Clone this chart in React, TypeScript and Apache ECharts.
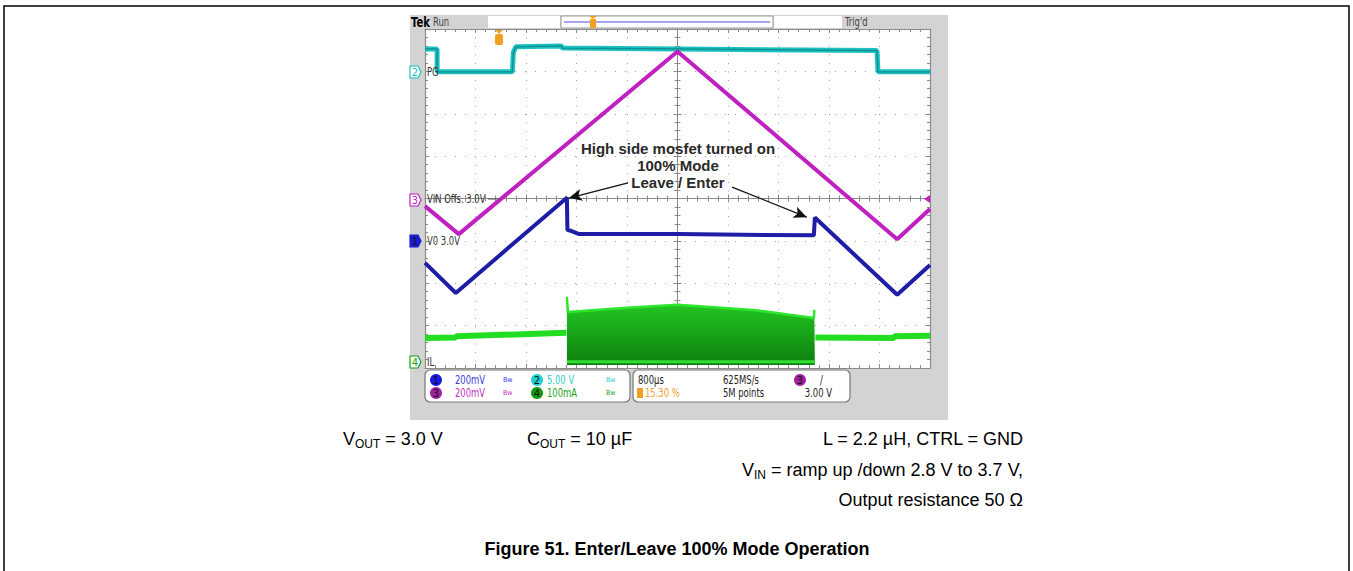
import React, { useEffect, useRef } from "react";
import * as echarts from "echarts";

// ---- data (x in horizontal divisions from screen centre, y in vertical divisions from centre) ----
const pgX = [-5, -4.76, -4.76, -3.27, -3.25, -3.2, -2.3, -2.28, 0, 3.95, 3.97, 5];
const pgY = [3.53, 3.53, 2.99, 2.99, 3.45, 3.58, 3.6, 3.55, 3.53, 3.49, 2.99, 2.99];
const vinX = [-5, -4.33, 0, 4.35, 5];
const vinY = [-0.18, -0.84, 3.47, -0.96, -0.25];
const voX = [-5, -4.39, -2.19, -2.18, -2.12, -1.95, 0, 2.7, 2.72, 4.35, 5];
const voY = [-1.52, -2.23, 0.02, -0.74, -0.76, -0.84, -0.84, -0.87, -0.45, -2.27, -1.57];
const ilX = [-5, -4.39, -4.38, -2.2, null, 2.73, 4.28, 4.3, 5];
const ilY = [-3.29, -3.28, -3.25, -3.17, null, -3.28, -3.29, -3.25, -3.24];
const burstX = [-2.19, -2.17, -1, 0, 1.5, 2.7, 2.71, 2.72];
const burstTop = [-2.32, -2.68, -2.58, -2.51, -2.63, -2.82, -2.63, -2.63];
const burstBaseX = [-2.19, 2.72];
const burstBaseY = [-3.85, -3.85];
const burstFloor = -3.93;
const arrowStart = [[-0.98, 0.37], [1.08, 0.27]];
const arrowEnd = [[-2.15, 0.01], [2.56, -0.44]];

const xDivMin = -5, xDivMax = 5, yDivMin = -4, yDivMax = 4;

const zip = (xs: (number | null)[], ys: (number | null)[]) =>
  xs.map((x, i) => (x === null || ys[i] === null ? [null, null] : [x, ys[i]]));

const NARROW = "'Liberation Sans Narrow', 'Arial Narrow', 'DejaVu Sans Condensed', sans-serif";
const SANS = "'Liberation Sans', Arial, Helvetica, sans-serif";
const GRID = "#8a8a8a";

function txt(x: number, y: number, text: string, o: any = {}) {
  return {
    type: "text",
    x,
    y,
    z: 100,
    silent: true,
    scaleX: o.scaleX ?? 1,
    style: {
      text,
      fill: o.fill || "#222",
      fontSize: o.fontSize || 11,
      fontFamily: o.fontFamily || NARROW,
      fontWeight: o.fontWeight || "normal",
      textAlign: o.align || "left",
      align: o.align || "left",
      textVerticalAlign: "middle",
      verticalAlign: "middle",
      rich: o.rich,
    },
  };
}

// narrow scope UI text
const ui = (x: number, y: number, text: string, fill: string, align = "left") =>
  txt(x, y, text, { fill, fontSize: 12, scaleX: 0.78, align });

function marker(y: number, num: string, color: string, filled: boolean) {
  const x = 410;
  return [
    {
      type: "polygon",
      z: 100,
      shape: { points: [[x, y - 6], [x + 8, y - 6], [x + 11, y], [x + 8, y + 6], [x, y + 6]] },
      style: { fill: filled ? color : "#fff", stroke: color, lineWidth: 1.2 },
    },
    txt(x + 5, y, num, { fill: filled ? "#111" : color, fontSize: 11, align: "center" }),
  ];
}

function chip(x: number, y: number, num: string, color: string) {
  return [
    { type: "circle", z: 100, shape: { cx: x, cy: y, r: 6 }, style: { fill: color } },
    txt(x, y, num, { fill: "#111", fontSize: 11, align: "center" }),
  ];
}

function bw(x: number, y: number, color: string) {
  return txt(x, y, "Bw", { fill: color, fontSize: 7 });
}

const sub = (color = "#000") => ({
  fontSize: 12, fontFamily: SANS, fill: color, color, verticalAlign: "bottom", lineHeight: 13,
});
const main = (color = "#000") => ({
  fontSize: 18, fontFamily: SANS, fill: color, color, verticalAlign: "middle", lineHeight: 22,
});

function axisCommon(extra: any) {
  return {
    type: "value",
    axisLabel: { show: false },
    splitLine: { show: false },
    axisTick: { show: true, inside: true, length: 4, lineStyle: { color: GRID, width: 1 } },
    minorTick: { show: true, splitNumber: 5, length: 3, lineStyle: { color: GRID, width: 1 } },
    axisLine: { show: true, onZero: false, lineStyle: { color: GRID, width: 1.2 } },
    ...extra,
  };
}

export default function App() {
  const ref = useRef<HTMLDivElement>(null);
  useEffect(() => {
    const chart = echarts.init(ref.current!, null, { renderer: "svg" });
    const xa = { min: xDivMin, max: xDivMax, interval: 1 };
    const ya = { min: yDivMin, max: yDivMax, interval: 1 };
    const option: any = {
      animation: false,
      backgroundColor: "#fff",
      grid: { left: 425, top: 29, width: 505, height: 339, show: true, backgroundColor: "#fff", borderWidth: 0 },
      xAxis: [
        axisCommon({ ...xa, position: "bottom", splitLine: { show: true, lineStyle: { color: "#a0a0a0", width: 1, type: [1, 7.5] } } }),
        axisCommon({ ...xa, position: "top" }),
        axisCommon({ ...xa, position: "bottom", axisLine: { show: true, onZero: true, onZeroAxisIndex: 0, lineStyle: { color: GRID, width: 1 } } }),
        axisCommon({ ...xa, position: "top", axisLine: { show: true, onZero: true, onZeroAxisIndex: 0, lineStyle: { color: GRID, width: 1 } } }),
      ],
      yAxis: [
        axisCommon({ ...ya, position: "left", splitLine: { show: true, lineStyle: { color: "#a0a0a0", width: 1, type: [1, 9] } } }),
        axisCommon({ ...ya, position: "right" }),
        axisCommon({ ...ya, position: "left", axisLine: { show: true, onZero: true, onZeroAxisIndex: 0, lineStyle: { color: GRID, width: 1 } } }),
        axisCommon({ ...ya, position: "right", axisLine: { show: true, onZero: true, onZeroAxisIndex: 0, lineStyle: { color: GRID, width: 1 } } }),
      ],
      series: [
        {
          name: "IL burst", type: "line", data: zip(burstX, burstTop), symbol: "none", z: 3,
          lineStyle: { color: "#2ee62e", width: 2.5 },
          areaStyle: {
            origin: burstFloor, opacity: 1,
            color: new echarts.graphic.LinearGradient(0, 0, 0, 1, [
              { offset: 0, color: "#26cc26" },
              { offset: 0.6, color: "#15a015" },
              { offset: 1, color: "#0f7d0f" },
            ]),
          },
        },
        { name: "IL base", type: "line", data: zip(burstBaseX, burstBaseY), symbol: "none", z: 3, lineStyle: { color: "#33dd33", width: 3 } },
        { name: "IL", type: "line", data: zip(ilX, ilY), symbol: "none", z: 3, connectNulls: false, lineStyle: { color: "#22dd22", width: 6 } },
        { name: "PG", type: "line", data: zip(pgX, pgY), symbol: "none", z: 4, lineStyle: { color: "#1cc0c0", width: 5 } },
        { name: "PG core", type: "line", data: zip(pgX, pgY), symbol: "none", z: 4, lineStyle: { color: "#0e8e8e", width: 1.3 } },
        {
          name: "VIN", type: "line", data: zip(vinX, vinY), symbol: "none", z: 5, lineStyle: { color: "#c020c0", width: 4 },
          markLine: {
            silent: true, symbol: ["none", "arrow"], symbolSize: [9, 13], label: { show: false },
            lineStyle: { color: "#111", width: 1.3, type: "solid" },
            emphasis: { disabled: true },
            data: arrowStart.map((s, i) => [{ coord: s }, { coord: arrowEnd[i] }]),
          },
        },
        { name: "VO", type: "line", data: zip(voX, voY), symbol: "none", z: 6, lineStyle: { color: "#1d1da6", width: 4 } },
      ],
      graphic: [
        { type: "rect", z: -20, silent: true, shape: { x: 4, y: 6, width: 1345, height: 620 }, style: { fill: "#fff", stroke: "#000", lineWidth: 1.5 } },
        { type: "rect", z: -10, silent: true, shape: { x: 410, y: 15, width: 538, height: 405 }, style: { fill: "#d3d3d3" } },
        // header
        txt(411, 22, "Tek", { fontSize: 14, fontWeight: "bold", fill: "#000", scaleX: 0.8 }),
        ui(433, 22, "Run", "#444"),
        { type: "rect", z: 100, shape: { x: 488, y: 16, width: 72, height: 12 }, style: { fill: "#fff" } },
        { type: "rect", z: 100, shape: { x: 561, y: 16, width: 212, height: 12 }, style: { fill: "#fff", stroke: "#999", lineWidth: 1 } },
        { type: "line", z: 101, shape: { x1: 564, y1: 22, x2: 770, y2: 22 }, style: { stroke: "#4c4cd6", lineWidth: 1.2 } },
        { type: "rect", z: 102, shape: { x: 590, y: 19, width: 6, height: 9 }, style: { fill: "#f0a020" } },
        { type: "polygon", z: 102, shape: { points: [[589, 16], [597, 16], [593, 19]] }, style: { fill: "#f0a020" } },
        { type: "rect", z: 100, shape: { x: 774, y: 16, width: 68, height: 12 }, style: { fill: "#fff" } },
        ui(845, 22, "Trig'd", "#444"),
        // trigger position marker
        { type: "polygon", z: 102, shape: { points: [[495, 30], [503, 30], [499, 34]] }, style: { fill: "#f0a020" } },
        { type: "rect", z: 102, shape: { x: 495, y: 34, width: 8, height: 11, r: 2 }, style: { fill: "#f0a020" } },
        txt(499, 40, "T", { fontSize: 9, fontWeight: "bold", fill: "#fff", align: "center" }),
        // trigger level marker
        { type: "polygon", z: 102, shape: { points: [[924, 199], [930, 195], [930, 203]] }, style: { fill: "#c020c0" } },
        // channel markers & labels
        ...marker(72, "2", "#1cc0c0", false),
        ui(427, 72, "PG", "#333"),
        ...marker(200, "3", "#c020c0", false),
        ui(427, 199, "VIN Offs. 3.0V", "#333"),
        { type: "line", z: 100, shape: { x1: 488, y1: 199, x2: 500, y2: 199 }, style: { stroke: "#555", lineWidth: 1 } },
        ...marker(241, "1", "#1d1dd0", true),
        ui(427, 241, "V0 3.0V", "#333"),
        ...marker(362, "4", "#14a014", false),
        ui(427, 362, "IL", "#333"),
        // info boxes
        { type: "rect", z: 99, shape: { x: 425, y: 370, width: 205, height: 32, r: 5 }, style: { fill: "#fff", stroke: "#777", lineWidth: 1.2 } },
        { type: "rect", z: 99, shape: { x: 633, y: 370, width: 217, height: 32, r: 5 }, style: { fill: "#fff", stroke: "#777", lineWidth: 1.2 } },
        ...chip(436, 380, "1", "#1a1ae6"),
        ui(455, 380, "200mV", "#3a3ae0"),
        bw(503, 380, "#3a3ae0"),
        ...chip(537, 380, "2", "#22d0d0"),
        ui(547, 380, "5.00 V", "#2ccccc"),
        bw(606, 380, "#2ccccc"),
        ...chip(436, 393, "3", "#a020a0"),
        ui(455, 393, "200mV", "#c030c0"),
        bw(503, 393, "#c030c0"),
        ...chip(537, 393, "4", "#109a10"),
        ui(547, 393, "100mA", "#20a020"),
        bw(606, 393, "#20a020"),
        ui(638, 380, "800µs", "#222"),
        { type: "rect", z: 100, shape: { x: 637, y: 388, width: 6, height: 10 }, style: { fill: "#f0a020" } },
        ui(645, 393, "15.30 %", "#f0a030"),
        ui(723, 380, "625MS/s", "#222"),
        ui(723, 393, "5M points", "#222"),
        ...chip(800, 380, "3", "#a020a0"),
        ui(820, 380, "/", "#222"),
        ui(832, 393, "3.00 V", "#222", "right"),
        // annotation
        txt(678, 148, "High side mosfet turned on", { fontFamily: SANS, fontWeight: "bold", fontSize: 15, fill: "#2a2a2a", align: "center" }),
        txt(678, 165, "100% Mode", { fontFamily: SANS, fontWeight: "bold", fontSize: 15, fill: "#2a2a2a", align: "center" }),
        txt(678, 182, "Leave / Enter", { fontFamily: SANS, fontWeight: "bold", fontSize: 15, fill: "#2a2a2a", align: "center" }),
        // caption
        txt(343, 439, "{a|V}{s|OUT}{a| = 3.0 V}", { rich: { a: main(), s: sub() } }),
        txt(527, 439, "{a|C}{s|OUT}{a| = 10 µF}", { rich: { a: main(), s: sub() } }),
        txt(1023, 439, "{a|L = 2.2 µH, CTRL = GND}", { align: "right", rich: { a: main() } }),
        txt(1023, 470, "{a|V}{s|IN}{a| = ramp up /down 2.8 V to 3.7 V,}", { align: "right", rich: { a: main(), s: sub() } }),
        txt(1023, 500, "{a|Output resistance 50 Ω}", { align: "right", rich: { a: main() } }),
        txt(677, 549, "Figure 51. Enter/Leave 100% Mode Operation", { fontFamily: SANS, fontWeight: "bold", fontSize: 18, fill: "#000", align: "center" }),
      ],
    };
    chart.setOption(option);
    return () => chart.dispose();
  }, []);
  return (
    <div
      ref={ref}
      style={{ position: "fixed", left: 0, top: 0, width: 1353, height: 571, background: "#fff" }}
    />
  );
}
